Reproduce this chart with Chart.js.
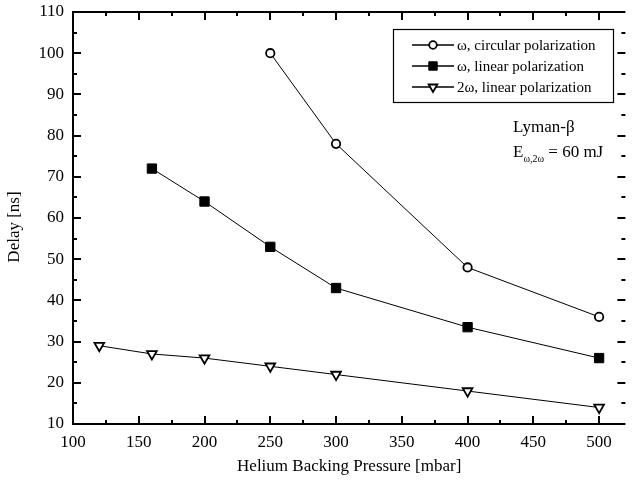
<!DOCTYPE html>
<html>
<head>
<meta charset="utf-8">
<script src="https://cdn.jsdelivr.net/npm/chart.js@4.4.1/dist/chart.umd.min.js"></script>
<style>
  html, body { margin: 0; padding: 0; background: #fff; }
  canvas { display: block; }
</style>
</head>
<body>
<canvas id="c" width="633" height="487"></canvas>
<script>
// ---- DATA ----
const seriesNames = ['\u03c9, circular polarization', '\u03c9, linear polarization', '2\u03c9, linear polarization'];
const circX = [250, 300, 400, 500];
const circY = [100, 78, 48, 36];
const sqX = [160, 200, 250, 300, 400, 500];
const sqY = [72, 64, 53, 43, 33.5, 26];
const triX = [120, 160, 200, 250, 300, 400, 500];
const triY = [29, 27, 26, 24, 22, 18, 14];
const xTickLabels = [100, 150, 200, 250, 300, 350, 400, 450, 500];
const yTickLabels = [10, 20, 30, 40, 50, 60, 70, 80, 90, 100, 110];
const xTitle = 'Helium Backing Pressure [mbar]';
const yTitle = 'Delay [ns]';
const noteLine1 = 'Lyman-\u03b2';
const noteE = 'E';
const noteSub = '\u03c9,2\u03c9';
const noteRest = ' = 60 mJ';

const FONT = '"Liberation Serif", "Times New Roman", serif';
Chart.defaults.color = '#000';
Chart.defaults.font.family = FONT;

const pts = (xs, ys) => xs.map((x, i) => ({x: x, y: ys[i]}));

const framePlugin = {
  id: 'frame',
  beforeDatasetsDraw(chart) {
    const {ctx, chartArea: a, scales: {x, y}} = chart;
    ctx.save();
    ctx.strokeStyle = '#000';
    ctx.lineWidth = 2;
    ctx.beginPath();
    ctx.moveTo(a.left - 1, a.top); ctx.lineTo(a.right, a.top);
    ctx.moveTo(a.left, a.top - 1); ctx.lineTo(a.left, a.bottom);
    ctx.moveTo(a.left - 1, a.bottom); ctx.lineTo(a.right, a.bottom);
    ctx.stroke();
    ctx.beginPath();
    const xs = [];
    for (let i = 0; i < xTickLabels.length; i++) {
      xs.push([xTickLabels[i], 8]);
      if (i < xTickLabels.length - 1) xs.push([(xTickLabels[i] + xTickLabels[i + 1]) / 2, 4]);
    }
    xs.push([xTickLabels[xTickLabels.length - 1] + (xTickLabels[1] - xTickLabels[0]) / 2, 4]);
    xs.forEach(([v, len]) => {
      const px = Math.round(x.getPixelForValue(v));
      if (px <= a.left + 1 || px >= a.right - 1) return;
      ctx.moveTo(px, a.bottom); ctx.lineTo(px, a.bottom - len);
      ctx.moveTo(px, a.top); ctx.lineTo(px, a.top + len);
    });
    const ys = [];
    for (let i = 0; i < yTickLabels.length; i++) {
      ys.push([yTickLabels[i], 8]);
      if (i < yTickLabels.length - 1) ys.push([(yTickLabels[i] + yTickLabels[i + 1]) / 2, 4]);
    }
    ys.forEach(([v, len]) => {
      const py = Math.round(y.getPixelForValue(v));
      if (py <= a.top + 1 || py >= a.bottom - 1) return;
      ctx.moveTo(a.left, py); ctx.lineTo(a.left + len, py);
      ctx.moveTo(a.right, py); ctx.lineTo(a.right - len, py);
    });
    ctx.stroke();
    ctx.restore();
  },
  afterDraw(chart) {
    const {ctx, chartArea: a} = chart;
    ctx.save();
    // y-axis title
    ctx.fillStyle = '#000';
    ctx.font = '17px ' + FONT;
    ctx.textAlign = 'center';
    ctx.textBaseline = 'middle';
    ctx.translate(15, 227);
    ctx.rotate(-Math.PI / 2);
    ctx.fillText(yTitle, 0, 0);
    ctx.restore();

    ctx.save();
    const bx = 393, by = 29, bw = 220, bh = 73;
    ctx.fillStyle = '#fff';
    ctx.fillRect(bx, by, bw, bh);
    ctx.strokeStyle = '#000';
    ctx.lineWidth = 1.2;
    ctx.strokeRect(bx + 0.5, by + 0.5, bw, bh);
    chart.data.datasets.forEach((ds, i) => {
      const ry = 45 + i * 21;
      ctx.strokeStyle = '#000';
      ctx.lineWidth = 1.5;
      ctx.beginPath();
      ctx.moveTo(412, ry); ctx.lineTo(454, ry);
      ctx.stroke();
      ctx.fillStyle = ds.pointBackgroundColor;
      ctx.strokeStyle = ds.pointBorderColor;
      ctx.lineWidth = ds.pointBorderWidth;
      if (Chart.helpers && Chart.helpers.drawPoint) {
        Chart.helpers.drawPoint(ctx, {pointStyle: ds.pointStyle, radius: ds.pointRadius * 0.9, rotation: ds.pointRotation || 0, borderWidth: ds.pointBorderWidth}, 433, ry);
      }
      ctx.fillStyle = '#000';
      ctx.font = '15px ' + FONT;
      ctx.textBaseline = 'middle';
      ctx.textAlign = 'left';
      ctx.fillText(ds.label, 457, ry + 1);
    });
    ctx.fillStyle = '#000';
    ctx.textBaseline = 'alphabetic';
    ctx.textAlign = 'left';
    ctx.font = '17px ' + FONT;
    ctx.fillText(noteLine1, 513, 132);
    ctx.fillText(noteE, 513, 157);
    let w = ctx.measureText(noteE).width;
    ctx.font = '10px ' + FONT;
    ctx.fillText(noteSub, 513 + w, 162);
    const w2 = ctx.measureText(noteSub).width;
    ctx.font = '17px ' + FONT;
    ctx.fillText(noteRest, 513 + w + w2, 157);
    ctx.restore();
  }
};

new Chart(document.getElementById('c'), {
  type: 'line',
  data: {
    datasets: [
      { label: seriesNames[0], data: pts(circX, circY), borderColor: '#000', borderWidth: 1,
        pointStyle: 'circle', pointRadius: 4.2, pointBorderWidth: 1.8,
        pointBackgroundColor: '#fff', pointBorderColor: '#000' },
      { label: seriesNames[1], data: pts(sqX, sqY), borderColor: '#000', borderWidth: 1,
        pointStyle: 'rect', pointRadius: 6.6, pointBorderWidth: 1,
        pointBackgroundColor: '#000', pointBorderColor: '#000' },
      { label: seriesNames[2], data: pts(triX, triY), borderColor: '#000', borderWidth: 1,
        pointStyle: 'triangle', pointRotation: 180, pointRadius: 5.6, pointBorderWidth: 1.8,
        pointBackgroundColor: '#fff', pointBorderColor: '#000' }
    ]
  },
  options: {
    responsive: false,
    animation: false,
    devicePixelRatio: 1,
    layout: { padding: { top: 12, right: -2, left: 0, bottom: 0 } },
    plugins: { legend: { display: false }, tooltip: { enabled: false } },
    elements: { line: { tension: 0 } },
    scales: {
      x: {
        type: 'linear', min: 100, max: 520,
        afterBuildTicks: s => { s.ticks = xTickLabels.map(v => ({value: v})); },
        afterFit: s => { s.height = 63; s.paddingLeft = 0; s.paddingRight = 0; },
        grid: { display: false, drawTicks: false },
        border: { display: false },
        ticks: { color: '#000', font: { family: FONT, size: 17 }, padding: 8, maxRotation: 0, autoSkip: false },
        title: { display: true, text: xTitle, color: '#000', font: { family: FONT, size: 17 }, padding: { top: 0, bottom: 10 } }
      },
      y: {
        type: 'linear', min: 10, max: 110,
        afterBuildTicks: s => { s.ticks = yTickLabels.map(v => ({value: v})); },
        afterFit: s => { s.width = 73; s.paddingTop = 0; s.paddingBottom = 0; },
        grid: { display: false, drawTicks: false },
        border: { display: false },
        ticks: { color: '#000', font: { family: FONT, size: 17 }, padding: 9, autoSkip: false },
        title: { display: false }
      }
    }
  },
  plugins: [framePlugin]
});
</script>
</body>
</html>
